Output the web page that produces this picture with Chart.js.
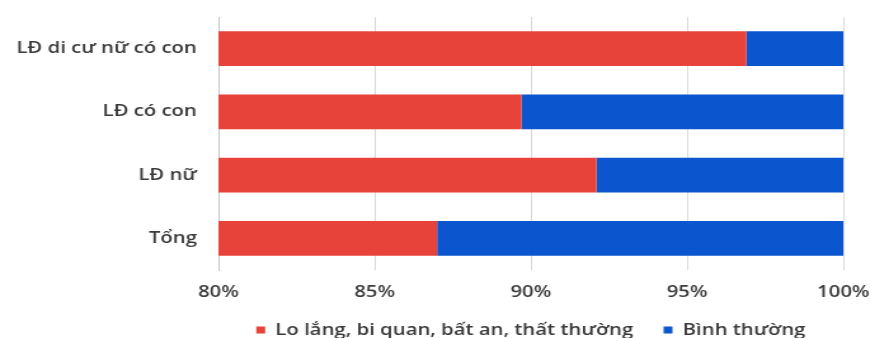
<!DOCTYPE html>
<html>
<head>
<meta charset="utf-8">
<script src="https://cdn.jsdelivr.net/npm/chart.js@4"></script>
<style>
  html, body { margin: 0; padding: 0; background: #fff; overflow: hidden; }
  /* hình gốc bị kéo giãn theo chiều ngang, nên vẽ hẹp rồi giãn ra */
  #wrap { width: 685px; height: 338px; transform: scaleX(1.27); transform-origin: 0 0; }
</style>
</head>
<body>
<div id="wrap"><canvas id="myChart"></canvas></div>
<script>
// dữ liệu
const categories = ['LĐ di cư nữ có con', 'LĐ có con', 'LĐ nữ', 'Tổng'];
const loLang = [96.9, 89.7, 92.1, 87.0];
const binhThuong = [3.1, 10.3, 7.9, 13.0];
const xTicks = [80, 85, 90, 95, 100];

const textColor = '#3a3a3a';
const fontFamily = '"Open Sans", "Noto Sans", sans-serif';
const font = { family: fontFamily, size: 16, weight: '600' };

const ctx = document.getElementById('myChart').getContext('2d');
const myChart = new Chart(ctx, {
    type: 'bar',
    data: {
        labels: categories,
        datasets: [
            {
                label: 'Lo lắng, bi quan, bất an, thất thường',
                data: loLang,
                backgroundColor: '#E8433A',
                barPercentage: 0.55,
                categoryPercentage: 1
            },
            {
                label: 'Bình thường',
                data: binhThuong,
                backgroundColor: '#0B55CF',
                barPercentage: 0.55,
                categoryPercentage: 1
            }
        ]
    },
    options: {
        indexAxis: 'y',
        responsive: true,
        maintainAspectRatio: false,
        animation: false,
        layout: { padding: { top: 17, right: 21, left: 0, bottom: -10 } },
        plugins: {
            tooltip: { enabled: false },
            legend: {
                position: 'bottom',
                fullSize: false, // canh giữa theo vùng vẽ như Excel
                labels: {
                    color: textColor,
                    font: font,
                    boxWidth: 7,
                    boxHeight: 7,
                    padding: 24
                }
            }
        },
        scales: {
            x: {
                stacked: true,
                min: 80,
                max: 100,
                afterBuildTicks: scale => { scale.ticks = xTicks.map(v => ({ value: v })); },
                afterFit: scale => {
                    scale.height = 28;
                    scale.paddingLeft = 0;
                    scale.paddingRight = 0;
                },
                border: { display: false },
                grid: { color: '#d9d9d9', drawTicks: false },
                ticks: {
                    color: textColor,
                    font: font,
                    padding: 13,
                    callback: v => v + '%'
                }
            },
            y: {
                stacked: true,
                afterFit: scale => {
                    scale.width = 172;
                    scale.paddingTop = 0;
                    scale.paddingBottom = 0;
                },
                border: { display: true, color: '#c4c4c4' },
                grid: { display: false },
                ticks: {
                    color: textColor,
                    font: font,
                    padding: 9
                }
            }
        }
    }
});
</script>
</body>
</html>
